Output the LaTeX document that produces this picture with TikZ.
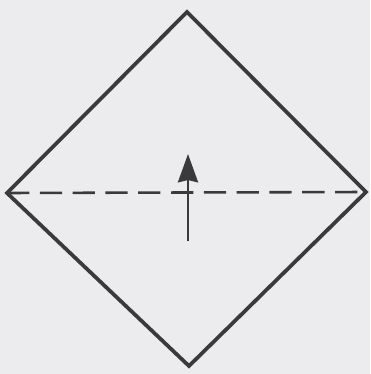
\documentclass[tikz,border=0pt]{standalone}
\usepackage{tikz}
\usetikzlibrary{arrows.meta}
\definecolor{paper}{HTML}{ECECEF}
\definecolor{ink}{HTML}{3A3A3C}
\tikzset{
  sqedge/.style={draw=ink,line width=3.2pt,line join=miter},
  foldline/.style={draw=ink,line width=2.2pt,dash pattern=on 19pt off 9pt},
  foldarrow/.style={-{Stealth[length=8.5mm,width=6mm,inset=0.7mm]},draw=ink,fill=ink,line width=2.4pt},
}

\begin{document}
\begin{tikzpicture}[x=0.03cm,y=-0.03cm]
  \fill[paper] (0,0) rectangle (370,374);
  \useasboundingbox (0,0) rectangle (370,374);
  \coordinate (cT) at (187,12);
  \coordinate (cL) at (7,193);
  \coordinate (cR) at (366,192);
  \coordinate (cB) at (189,366);
  \coordinate (aTail) at (188,241);
  \coordinate (aHead) at (188,154);
  \draw[foldline] (cL) -- (cR);
  \draw[sqedge] (cT) -- (cR) -- (cB) -- (cL) -- cycle;
  \draw[foldarrow] (aTail) -- (aHead);
\end{tikzpicture}
\end{document}
